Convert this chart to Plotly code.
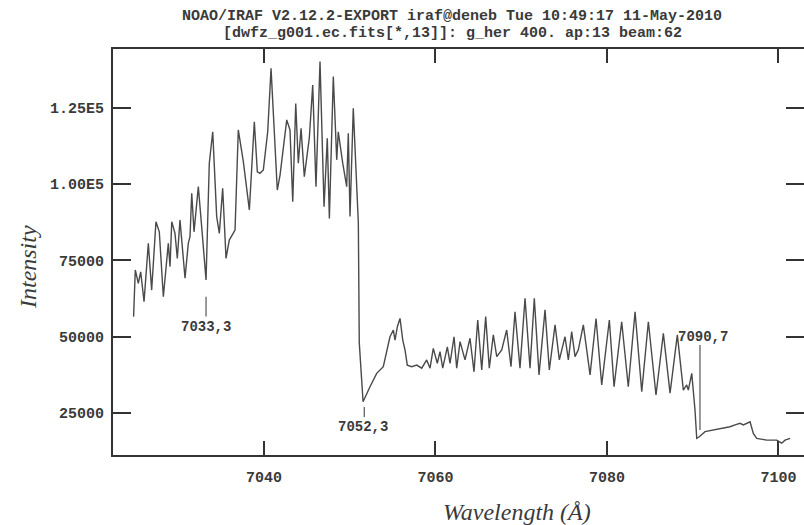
import plotly.graph_objects as go

wavelength = [7024.8, 7025.0, 7025.35, 7025.63, 7026.02, 7026.52, 7026.91, 7027.41, 7027.80, 7028.27,
              7028.85, 7029.05, 7029.25, 7029.63, 7029.90, 7030.21, 7030.80, 7031.18, 7031.38, 7031.58,
              7031.85, 7032.35, 7032.74, 7033.25, 7033.63, 7034.03, 7034.49, 7034.80, 7035.19, 7035.58,
              7035.96, 7036.63, 7037.01, 7037.60, 7038.30, 7038.88, 7039.23, 7039.54, 7039.93, 7040.44,
              7040.83, 7041.18, 7041.56, 7041.88, 7042.66, 7043.04, 7043.36, 7043.71, 7044.01, 7044.33,
              7044.71, 7045.29, 7045.69, 7046.07, 7046.54, 7047.01, 7047.39, 7047.63, 7048.09, 7048.49,
              7048.67, 7049.19, 7049.65, 7049.84, 7050.04, 7050.42, 7050.82, 7051.01, 7051.12, 7051.56,
              7052.37, 7053.15, 7053.92, 7054.32, 7054.70, 7055.09, 7055.29, 7055.56, 7055.87, 7056.19,
              7056.45, 7056.72, 7057.23, 7057.82, 7058.40, 7058.98, 7059.37, 7059.75, 7060.22, 7060.53,
              7060.85, 7061.39, 7061.70, 7062.17, 7062.48, 7062.87, 7063.45, 7064.03, 7064.50, 7064.93,
              7065.40, 7065.86, 7066.28, 7066.75, 7067.15, 7067.73, 7068.31, 7068.81, 7069.28, 7069.86,
              7070.45, 7071.03, 7071.53, 7072.08, 7072.78, 7073.28, 7073.95, 7074.45, 7075.11, 7075.50,
              7075.89, 7076.28, 7076.66, 7077.25, 7078.03, 7078.73, 7079.39, 7080.28, 7080.83, 7081.72,
              7082.49, 7083.28, 7084.06, 7084.83, 7085.72, 7086.58, 7087.36, 7088.21, 7088.91, 7089.30,
              7089.49, 7089.89, 7090.27, 7090.47, 7090.77, 7091.44, 7092.41, 7093.57, 7094.35, 7094.94,
              7095.52, 7095.91, 7096.30, 7096.69, 7097.07, 7097.47, 7098.63, 7099.80, 7100.38, 7100.77,
              7101.35]

intensity = [56600, 71900, 67500, 71300, 61500, 80600, 65300, 87700, 84400, 63100,
             80600, 73000, 87700, 83900, 75700, 88300, 69200, 80600, 82800, 97000,
             84400, 99200, 86100, 68600, 106900, 117200, 89400, 83900, 98700, 75700,
             81700, 85000, 117800, 107400, 91600, 120500, 104100, 103600, 104700, 117200,
             138000, 117800, 98100, 103000, 121100, 117800, 94300, 126500, 106900, 118300,
             102500, 115100, 132500, 99200, 140200, 92600, 115100, 88800, 135300, 108000,
             117200, 106900, 99200, 116700, 89400, 124900, 100300, 87200, 48000, 28700,
             33600, 38000, 40200, 45700, 50000, 52200, 48900, 53300, 56000, 48900,
             45700, 40700, 40200, 40700, 39700, 42400, 39700, 46200, 41300, 45100,
             39700, 46700, 41300, 50000, 39700, 48400, 42400, 49500, 38500, 55500,
             39100, 56600, 39700, 50600, 43500, 45700, 52200, 40200, 58200, 39700,
             62600, 39700, 62600, 37500, 58800, 39100, 53900, 42400, 50000, 42400,
             51700, 43500, 45700, 53900, 37500, 56000, 34200, 55500, 33600, 54900,
             33600, 58200, 32000, 54900, 30900, 51100, 31500, 50600, 32500, 34200,
             32500, 38000, 26000, 16700, 17200, 18900, 19400, 20000, 20500, 21100,
             21600, 21100, 21600, 22100, 18300, 16700, 16100, 16100, 15100, 16100,
             16700]

x_ticks = [7040, 7060, 7080, 7100]
y_ticks = [25000, 50000, 75000, 100000, 125000]
y_tick_text = ["25000", "50000", "75000", "1.00E5", "1.25E5"]

mark_labels = ["7033,3", "7052,3", "7090,7"]
mark_wl = [7033.25, 7051.7, 7090.85]
mark_line_lo = [56600, 23700, 19400]
mark_line_hi = [63100, 27000, 47300]
mark_label_x = [7033.25, 7051.6, 7091.2]
mark_label_y = [53200, 20400, 49900]

title_lines = ["NOAO/IRAF V2.12.2-EXPORT iraf@deneb Tue 10:49:17 11-May-2010",
               "[dwfz_g001.ec.fits[*,13]]: g_her 400. ap:13 beam:62"]

X_RANGE = [7022.4, 7102.98]
Y_RANGE = [11230, 144340]

INK = "#3a3a3a"
MONO = "Liberation Mono"
SERIF = "Liberation Serif"

fig = go.Figure()
fig.add_trace(go.Scatter(x=wavelength, y=intensity, mode="lines",
                         line=dict(color="#4a4a4a", width=1.4),
                         showlegend=False, hoverinfo="skip"))
# transparent trace to carry the right-hand tick axis
fig.add_trace(go.Scatter(x=wavelength, y=intensity, mode="lines", yaxis="y2",
                         line=dict(color="rgba(0,0,0,0)", width=0),
                         showlegend=False, hoverinfo="skip"))

for wl, lo, hi in zip(mark_wl, mark_line_lo, mark_line_hi):
    fig.add_shape(type="line", xref="x", yref="y", x0=wl, x1=wl, y0=lo, y1=hi,
                  line=dict(color="#555555", width=1.2))

for txt, lx, ly in zip(mark_labels, mark_label_x, mark_label_y):
    fig.add_annotation(x=lx, y=ly, xref="x", yref="y", text=txt, showarrow=False,
                       font=dict(family=MONO, size=14, color=INK, weight="bold"),
                       xanchor="center", yanchor="middle")

for i, line in enumerate(title_lines):
    fig.add_annotation(x=0.4906, y=1, xref="paper", yref="paper", text=line,
                       showarrow=False, xanchor="center", yanchor="middle",
                       yshift=33 - 17 * i,
                       font=dict(family=MONO, size=15, color=INK, weight="bold"))

fig.add_annotation(x=-0.1230, y=0.463, xref="paper", yref="paper",
                   text="<i>Intensity</i>", showarrow=False, textangle=-90,
                   xanchor="center", yanchor="middle",
                   font=dict(family=SERIF, size=24, color=INK))
fig.add_annotation(x=0.584, y=-0.1404, xref="paper", yref="paper",
                   text="<i>Wavelength (Å)</i>", showarrow=False,
                   xanchor="center", yanchor="middle",
                   font=dict(family=SERIF, size=24, color=INK))

axis_common = dict(showgrid=False, zeroline=False, ticks="inside", tickwidth=2,
                   tickcolor="#333333")

fig.update_layout(
    width=804, height=525,
    margin=dict(l=113, r=0, t=49, b=70),
    paper_bgcolor="white", plot_bgcolor="white",
    xaxis=dict(range=X_RANGE, tickvals=x_ticks, ticklen=14, showline=True,
               linewidth=2, linecolor="#333333", mirror="ticks",
               tickfont=dict(family=MONO, size=15, color=INK, weight="bold"),
               ticklabelstandoff=7, **axis_common),
    yaxis=dict(range=Y_RANGE, tickvals=y_ticks, ticktext=y_tick_text, ticklen=18,
               showline=True, linewidth=2, linecolor="#333333", mirror=False,
               tickfont=dict(family=MONO, size=15, color=INK, weight="bold"),
               ticklabelstandoff=4, **axis_common),
    yaxis2=dict(range=Y_RANGE, tickvals=y_ticks, ticklen=18, overlaying="y",
                side="right", showline=False, showticklabels=False, **axis_common),
)

fig.write_html("out.html")
